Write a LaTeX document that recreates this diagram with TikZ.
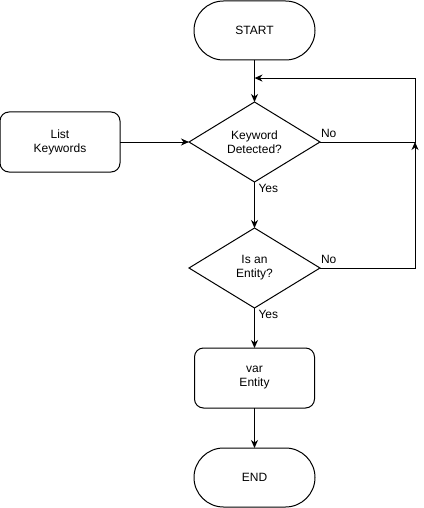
\documentclass[tikz,border=0pt]{standalone}
\usepackage{fontspec}
\setmainfont{Liberation Sans}
\usetikzlibrary{shapes.geometric,arrows.meta,positioning,calc}

\begin{document}
\begin{tikzpicture}[
    x=1pt, y=-1pt,
    font=\fontsize{12}{14}\selectfont,
    line width=1pt,
    every node/.style={outer sep=0pt},
    terminal/.style={rectangle, draw, rounded corners=29.5pt, minimum width=121pt, minimum height=59pt, align=center},
    process/.style={rectangle, draw, rounded corners=9pt, minimum width=120pt, minimum height=60pt, align=center},
    decision/.style={diamond, draw, aspect=1.64, inner sep=0pt, minimum width=131pt, minimum height=80pt, align=center},
    arrow/.style={-{Stealth[length=8pt, width=7pt, inset=2.5pt]}},
    nolabel/.style={anchor=south west, inner xsep=1pt, inner ysep=4.5pt},
    yeslabel/.style={anchor=north west, inner xsep=4pt, inner ysep=2pt}
]
\useasboundingbox (0,0) rectangle (423,508);

% Main column
\node[terminal] (start) at (254.5,30.5) {START};
\node[decision, below=42pt of start] (kw) {Keyword\\Detected?};
\node[process, left=69pt of kw] (list) {List\\Keywords};
\node[decision, below=46pt of kw] (ent) {Is an\\Entity?};
\node[process, below=40pt of ent] (var) {var\\Entity};
\node[terminal, below=40pt of var] (end) {END};

% Loop points
\coordinate (corner) at ($(kw.east)+(95,0)$);
\coordinate (back) at ($(start.south)!0.43!(kw.north)$);

% Connectors
\draw[arrow] (start) -- (kw);
\draw[arrow] (list) -- (kw);
\draw[arrow] (kw) -- (ent);
\draw[arrow] (ent) -- (var);
\draw[arrow] (var) -- (end);
\draw[arrow] (kw.east) -- (corner) |- (back);
\draw[arrow] (ent.east) -| (corner);

% Labels
\node[nolabel] (kwno) at (kw.east) {No};
\node[yeslabel] (kwyes) at (kw.south) {Yes};
\node[nolabel] (entno) at (ent.east) {No};
\node[yeslabel] (entyes) at (ent.south) {Yes};

\end{tikzpicture}
\end{document}
